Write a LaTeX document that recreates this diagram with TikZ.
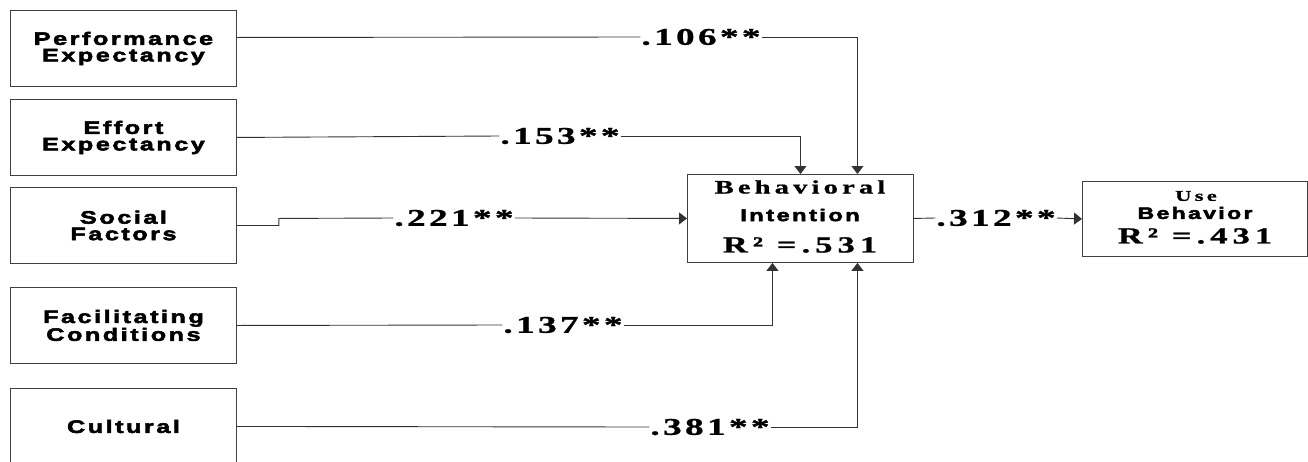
\documentclass[tikz,border=0pt]{standalone}
\usepackage{fontspec}
\usetikzlibrary{arrows.meta}
\newfontfamily\sansb{Liberation Sans Bold}[FakeStretch=1.4, LetterSpace=14, FakeBold=3]
\newfontfamily\serifb{Liberation Serif Bold}[FakeStretch=1.55, LetterSpace=14, FakeBold=1]
\newfontfamily\serifw{Liberation Serif Bold}[FakeStretch=1.5, LetterSpace=22, FakeBold=1]
\tikzset{
  lnk/.style={draw=black!80, line width=0.9pt},
  arr/.style={lnk, -{Triangle[width=12pt,length=8pt]}},
  factor/.style={draw=black!75, line width=0.9pt, minimum width=226pt, minimum height=76pt,
    anchor=north west, inner sep=0pt, align=center,
    font=\sansb\fontsize{18}{16.5}\selectfont},
  coef/.style={fill=white, inner sep=1pt, font=\serifb\fontsize{24}{24}\selectfont},
  txt/.style={inner sep=0pt}
}
\begin{document}
\begin{tikzpicture}[x=1pt, y=-1pt]
\useasboundingbox (0,0) rectangle (1308,461);
% factor boxes
\node[factor] (pe) at (10,10) {Performance\\Expectancy};
\node[factor] (ee) at (10,99) {Effort\\Expectancy};
\node[factor] (sf) at (10,187) {Social\\Factors};
\node[factor] (fc) at (10,287) {Facilitating\\Conditions};
\node[factor] (cu) at (10,388) {Cultural};
% behavioral intention
\node[draw=black!75, line width=0.9pt, minimum width=226pt, minimum height=88pt, anchor=north west, inner sep=0pt] (bi) at (687,174) {};
\node[txt, font=\serifw\fontsize{19}{19}\selectfont] (bi1) at (800,187) {Behavioral};
\node[txt, font=\sansb\fontsize{17}{17}\selectfont] (bi2) at (800,215) {Intention};
\node[txt, font=\serifw\fontsize{23}{23}\selectfont] (bi3) at (800,245) {R² =.531};
% use behavior
\node[draw=black!75, line width=0.9pt, minimum width=225pt, minimum height=75pt, anchor=north west, inner sep=0pt] (ub) at (1082,181) {};
\node[txt, font=\serifw\fontsize{15}{15}\selectfont] (ub1) at (1196,196) {Use};
\node[txt, font=\sansb\fontsize{16.5}{16.5}\selectfont] (ub2) at (1195,213) {Behavior};
\node[txt, font=\serifw\fontsize{23}{23}\selectfont] (ub3) at (1195,236) {R² =.431};
% coefficient labels
\node[coef] (l106) at (701,37) {.106**};
\node[coef] (l153) at (560,136) {.153**};
\node[coef] (l221) at (454,218) {.221**};
\node[coef] (l137) at (563,325) {.137**};
\node[coef] (l381) at (710,427) {.381**};
\node[coef] (l312) at (996,218) {.312**};
% connectors
\draw[lnk] ([yshift=11pt]pe.east) -- (l106.west |- 0,37);
\draw[arr] (l106.east |- 0,37) -| ([xshift=57pt]bi.north);
\draw[lnk] (ee.east) -- (l153.west);
\draw[arr] (l153.east) -| (bi.north);
\coordinate (s1) at ([xshift=42pt]sf.east);
\coordinate (s2) at (s1 |- bi.west);
\draw[lnk] (sf.east) -- (s1) -- (s2) -- (l221.west);
\draw[arr] (l221.east) -- (bi.west);
\draw[lnk] (fc.east) -- (l137.west);
\draw[arr] (l137.east) -| ([xshift=-28pt]bi.south);
\draw[lnk] (cu.east) -- (l381.west);
\draw[arr] (l381.east) -| ([xshift=57pt]bi.south);
\draw[lnk] (bi.east) -- (l312.west);
\draw[arr] (l312.east) -- (ub.west);
\end{tikzpicture}
\end{document}
